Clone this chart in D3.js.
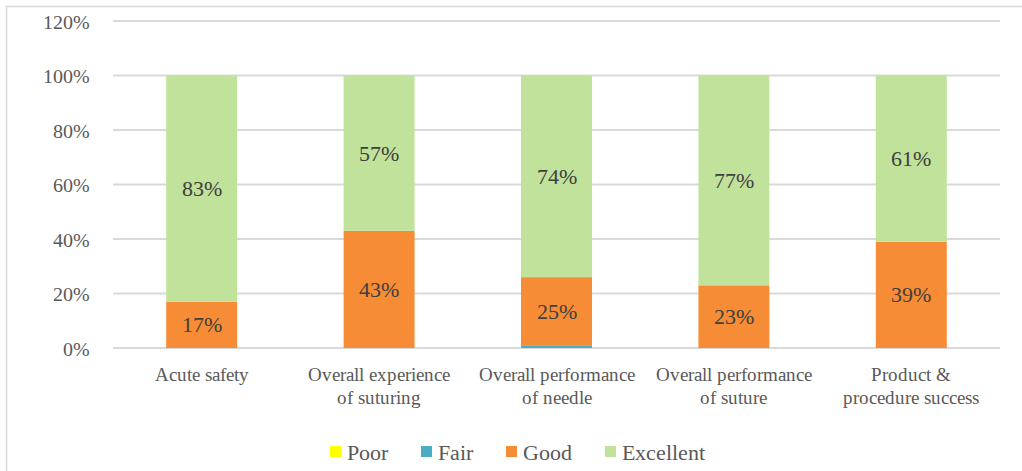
<!DOCTYPE html>
<html>
<head>
<meta charset="utf-8">
<script src="https://cdn.jsdelivr.net/npm/d3@7"></script>
<style>
  @font-face {
    font-family: "ChartSerif";
    src: local("Liberation Serif"), local("LiberationSerif-Regular"), local("LiberationSerif"),
         local("DejaVu Serif"), local("DejaVuSerif"), local("Times New Roman");
  }
  body { margin: 0; background: #fff; }
  svg text { font-family: "ChartSerif", "Liberation Serif", serif !important; }
</style>
</head>
<body>
<div class="chart"></div>
<script>
const width = 1022,
      height = 471;

// data
const categories = [
  ["Acute safety"],
  ["Overall experience", "of suturing"],
  ["Overall performance", "of needle"],
  ["Overall performance", "of suture"],
  ["Product &", "procedure success"]
];
const seriesNames = ["Poor", "Fair", "Good", "Excellent"];
const poor      = [0, 0, 0, 0, 0];
const fair      = [0, 0, 1, 0, 0];
const good      = [17, 43, 25, 23, 39];
const excellent = [83, 57, 74, 77, 61];
const yTicks = [0, 20, 40, 60, 80, 100, 120];

const colors = ["#ffff00", "#4bacc6", "#f68c35", "#c1e29b"];

const margin = {top: 21, right: 22, bottom: 123, left: 113};

const svg = d3.select(".chart")
              .append("svg")
              .attr("width", width)
              .attr("height", height);

// outer frame (runs off the right/bottom edge like the original)
svg.append("rect")
   .attr("x", 6.5).attr("y", 6.5)
   .attr("width", width + 20).attr("height", height + 20)
   .attr("fill", "none").attr("stroke", "#d9d9d9").attr("stroke-width", 1.5);

const x = d3.scaleBand()
            .domain(d3.range(categories.length))
            .range([margin.left, width - margin.right])
            .paddingInner(0.6).paddingOuter(0.3);

const y = d3.scaleLinear()
            .domain([0, 120])
            .range([height - margin.bottom, margin.top]);

// gridlines
svg.append("g").classed("grid", true)
   .selectAll("line").data(yTicks).enter().append("line")
   .attr("x1", margin.left).attr("x2", width - margin.right)
   .attr("y1", d => y(d)).attr("y2", d => y(d))
   .attr("stroke", "#d9d9d9").attr("stroke-width", 2);

// y axis labels
const yAxis = d3.axisLeft(y).tickValues(yTicks).tickSize(0).tickPadding(0)
                .tickFormat(d => d + "%");
svg.append("g")
   .attr("transform", "translate(" + 90 + ",0)")
   .call(yAxis)
   .call(g => g.select(".domain").remove())
   .selectAll("text")
   .attr("font-size", 20)
   .attr("fill", "#595959")
   .attr("dy", "0.35em");

// stacked bars
const rows = categories.map((c, i) => ({i: i, Poor: poor[i], Fair: fair[i], Good: good[i], Excellent: excellent[i]}));
const stack = d3.stack().keys(seriesNames)(rows);

const layers = svg.append("g").classed("bars", true)
   .selectAll("g").data(stack).enter().append("g")
   .attr("fill", (d, k) => colors[k]);

layers.selectAll("rect").data(d => d).enter().append("rect")
   .attr("x", d => x(d.data.i))
   .attr("width", x.bandwidth())
   .attr("y", d => y(d[1]))
   .attr("height", d => y(d[0]) - y(d[1]));

// value labels (skip tiny segments)
layers.selectAll("text").data(d => d.filter(s => s[1] - s[0] >= 5)).enter().append("text")
   .attr("x", d => x(d.data.i) + x.bandwidth() / 2)
   .attr("y", d => y((d[0] + d[1]) / 2))
   .attr("dy", "0.35em")
   .attr("text-anchor", "middle")
   .attr("font-size", 21.5)
   .attr("fill", "#404040")
   .text(d => (d[1] - d[0]) + "%");

// category labels
const cat = svg.append("g").classed("categories", true)
   .selectAll("text").data(categories).enter().append("text")
   .attr("text-anchor", "middle")
   .attr("font-size", 19)
   .attr("fill", "#595959")
   .attr("transform", (d, i) => "translate(" + (x(i) + x.bandwidth() / 2) + "," + 381 + ")");
cat.selectAll("tspan").data(d => d).enter().append("tspan")
   .attr("x", 0)
   .attr("dy", (d, j) => j === 0 ? 0 : 23)
   .text(d => d);

// legend
const legendX = [330, 421, 506, 605];
const legend = svg.append("g").classed("legend", true)
   .selectAll("g").data(seriesNames).enter().append("g")
   .attr("transform", (d, k) => "translate(" + legendX[k] + "," + 446 + ")");
legend.append("rect")
   .attr("width", 11).attr("height", 11)
   .attr("fill", (d, k) => colors[k]);
legend.append("text")
   .attr("x", 17).attr("y", 6)
   .attr("dy", "0.35em")
   .attr("font-size", 22)
   .attr("fill", "#595959")
   .text(d => d);
</script>
</body>
</html>
